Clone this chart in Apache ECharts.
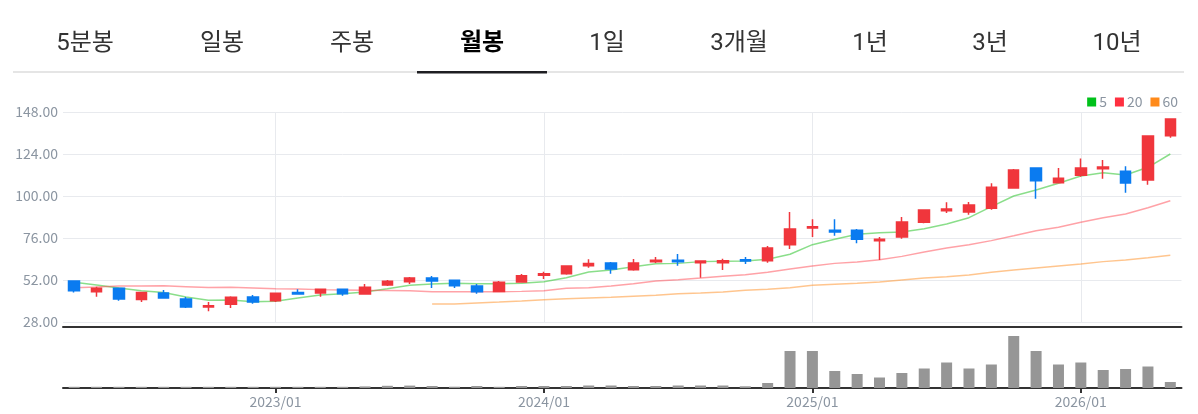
<!DOCTYPE html>
<html>
<head>
<meta charset="utf-8">
<title>월봉</title>
<style>
  html, body { margin: 0; padding: 0; background: #fff; }
  #main { width: 1198px; height: 414px; }
</style>
<script src="https://cdn.jsdelivr.net/npm/echarts@6/dist/echarts.min.js"></script>
</head>
<body>
<div id="main"></div>
<script>
const tabLabels = ["5분봉", "일봉", "주봉", "월봉", "1일", "3개월", "1년", "3년", "10년"];
const activeTab = "월봉";

const months = [
  "2022/04", "2022/05", "2022/06", "2022/07", "2022/08", "2022/09", "2022/10", "2022/11", "2022/12",
  "2023/01", "2023/02", "2023/03", "2023/04", "2023/05", "2023/06", "2023/07", "2023/08", "2023/09", "2023/10", "2023/11", "2023/12",
  "2024/01", "2024/02", "2024/03", "2024/04", "2024/05", "2024/06", "2024/07", "2024/08", "2024/09", "2024/10", "2024/11", "2024/12",
  "2025/01", "2025/02", "2025/03", "2025/04", "2025/05", "2025/06", "2025/07", "2025/08", "2025/09", "2025/10", "2025/11", "2025/12",
  "2026/01", "2026/02", "2026/03", "2026/04", "2026/05",
];

const opens = [51.4, 45.3, 47.3, 40.8, 44.6, 41.1, 36.6, 38.1, 42.3, 40.2, 44.8, 44.6, 46.7, 44, 49.1, 51, 53.1, 51.8, 48.6, 45.5, 50.9, 54.7, 55.6, 60.2, 61.7, 57.9, 62.5, 63.3, 61.9, 61.9, 63.6, 63, 72.2, 81.7, 80.4, 80.4, 74.5, 76.6, 85, 91.6, 90.9, 93, 104.6, 116, 107.6, 111.8, 115.6, 114.1, 109.1, 134.5];
const closes = [45.9, 47.3, 41.1, 44.8, 41.7, 36.6, 37.3, 42.1, 39.4, 44.4, 44, 46.7, 44.2, 47.8, 51.3, 53.1, 51.4, 48.7, 45.3, 50.7, 54.5, 55.6, 60, 61.5, 58.3, 61.7, 63.3, 62.5, 62.9, 63, 62.9, 70.3, 81.1, 82.5, 79.4, 75.3, 75.3, 85.1, 92, 92.6, 94.9, 105, 114.9, 108.7, 110.1, 116, 116.6, 107.4, 134.3, 144];
const lows = [44.8, 42.5, 40.2, 39.4, 41.7, 36, 34.1, 36, 38.5, 39.4, 44, 42.5, 43, 43.6, 48.6, 49.7, 47.4, 47.4, 44.2, 45.5, 50.9, 52.6, 55, 59, 55.6, 57.3, 61.7, 60.2, 53.3, 57.7, 61.1, 61.9, 69.7, 76.6, 77.3, 73, 63.4, 75.6, 84.4, 90.3, 89.3, 92.2, 104.6, 98.5, 107.6, 111, 109.9, 101.9, 106.5, 133.3];
const highs = [51.4, 48.2, 47.6, 44.8, 46.3, 42.3, 39.4, 42.7, 43.4, 44.4, 46.7, 46.7, 46.7, 49.7, 52, 53.7, 54.3, 52.2, 49.7, 51.4, 55.4, 56.7, 60, 63.8, 62.3, 64, 65.1, 66.9, 63.2, 64.2, 65.1, 71.4, 90.9, 86.7, 86.7, 81.1, 76.6, 88, 92, 96.4, 96.6, 107.3, 115.4, 116, 116, 121.5, 120.6, 117, 134.3, 144];

const ma5 = [50.7, 49.1, 47.4, 45.9, 44.8, 42.3, 40.4, 40.6, 39.6, 39.8, 41.7, 43.4, 44.2, 45.1, 47, 49, 49.7, 50.1, 49.9, 49.9, 50.1, 51, 53.3, 56.6, 57.7, 59.6, 61.3, 61.5, 62.5, 62.7, 62.9, 63.8, 66.7, 72.2, 75.3, 78.1, 79, 79.4, 81.3, 84, 87.6, 93.9, 100, 103.4, 107.3, 111.4, 113.3, 112, 116.4, 124];
const ma20 = [47.6, 48, 48.6, 48.6, 48.7, 48.2, 47.7, 47.8, 47.4, 47, 46.9, 46.5, 46.3, 46.1, 46, 45.9, 45.3, 45.3, 45.3, 45.3, 45.5, 45.9, 47.3, 47.6, 48.6, 49.9, 51.4, 52.2, 53.1, 54.1, 55, 56.4, 58.3, 60, 61.5, 62.3, 63.6, 65.5, 68, 70.3, 72.2, 74.5, 77.3, 80.2, 82.1, 85, 87.6, 89.7, 93.3, 97.3];
const ma60 = ["-", "-", "-", "-", "-", "-", "-", "-", "-", "-", "-", "-", "-", "-", "-", "-", 38.3, 38.3, 38.9, 39.4, 40, 40.7, 41.3, 41.7, 42.1, 42.7, 43.3, 44.2, 44.6, 45.1, 46.1, 46.7, 47.6, 49, 49.6, 50.1, 50.9, 52, 53.1, 53.9, 54.9, 56.4, 57.7, 58.9, 60, 61.1, 62.5, 63.4, 64.7, 66.1];

const volumes = [1.2, 1.2, 1.2, 1.2, 1.2, 1.2, 1.2, 1.2, 1.2, 1.2, 1.2, 1.2, 1.2, 1.6, 2.2, 2.4, 2, 1.3, 2, 1.2, 2, 2, 2, 2.5, 2.5, 2, 2, 2.5, 2.5, 2.5, 1.7, 5, 37, 37, 17, 14, 10.5, 15, 19.5, 25.5, 19.5, 23.5, 52, 37, 23.5, 25.5, 18, 19, 21.5, 6];

const priceTicks = { min: 28, max: 148, interval: 24 };

const FONT = '"Noto Sans CJK KR", "Noto Sans", sans-serif';
const GRAY = "#8b95a1";
const GRID_LINE = "#e8eaee";

const tabCenters = [85, 222, 352, 482, 607, 739, 870, 990, 1117];

// only January gets a label, a tick and a vertical line
function isJanuary(index, value) {
  return value.endsWith("/01");
}

const candleData = months.map((m, i) => [opens[i], closes[i], lows[i], highs[i]]);

const tabGraphics = tabLabels.map((label, i) => ({
  type: "text",
  x: tabCenters[i],
  y: 44,
  style: {
    text: label,
    align: "center",
    verticalAlign: "middle",
    fontFamily: 'Roboto, "Noto Sans CJK KR", sans-serif',
    fontSize: 24,
    fontWeight: label === activeTab ? "bold" : "normal",
    fill: label === activeTab ? "#000" : "#333",
  },
}));

function maSeries(name, data, legendColor, lineColor) {
  return {
    name: name,
    type: "line",
    data: data,
    showSymbol: false,
    symbol: "none",
    z: 2,
    itemStyle: { color: legendColor },
    lineStyle: { color: lineColor, width: 1.5 },
    silent: true,
  };
}

var chart = echarts.init(document.getElementById("main"));

chart.setOption({
  animation: false,
  textStyle: { fontFamily: FONT },
  graphic: [
    ...tabGraphics,
    { type: "rect", shape: { x: 13, y: 71, width: 1171, height: 2 }, style: { fill: "#e5e5e5" } },
    { type: "rect", shape: { x: 417, y: 71, width: 130, height: 2.5 }, style: { fill: "#1e1e22" } },
  ],
  legend: {
    data: ["5", "20", "60"],
    right: 15,
    top: 90,
    icon: "rect",
    itemWidth: 9,
    itemHeight: 9,
    itemGap: 8,
    textStyle: { color: GRAY, fontSize: 14, padding: [0, 0, 0, -2] },
  },
  grid: [
    { left: 63, right: 16.5, top: 112, height: 210 },
    { left: 63, right: 16.5, top: 336, height: 52 },
  ],
  xAxis: [
    {
      type: "category",
      gridIndex: 0,
      data: months,
      offset: 5,
      axisLine: { lineStyle: { color: "#333", width: 2 } },
      axisTick: { show: false },
      axisLabel: { show: false },
      splitLine: {
        show: true,
        alignWithLabel: true,
        interval: isJanuary,
        lineStyle: { color: GRID_LINE, width: 1 },
      },
    },
    {
      type: "category",
      gridIndex: 1,
      data: months,
      axisLine: { lineStyle: { color: "#333", width: 2 } },
      axisTick: {
        show: true,
        alignWithLabel: true,
        interval: isJanuary,
        length: 5,
        lineStyle: { color: "#333", width: 2 },
      },
      axisLabel: { interval: isJanuary, color: GRAY, fontSize: 14, margin: 7 },
      splitLine: { show: false },
    },
  ],
  yAxis: [
    {
      type: "value",
      gridIndex: 0,
      min: priceTicks.min,
      max: priceTicks.max,
      interval: priceTicks.interval,
      axisLine: { show: false },
      axisTick: { show: false },
      axisLabel: {
        color: GRAY,
        fontSize: 14,
        margin: 5,
        formatter: (v) => v.toFixed(2),
      },
      splitLine: { lineStyle: { color: GRID_LINE, width: 1 } },
    },
    {
      type: "value",
      gridIndex: 1,
      min: 0,
      max: 52,
      axisLine: { show: false },
      axisTick: { show: false },
      axisLabel: { show: false },
      splitLine: { show: false },
    },
  ],
  series: [
    maSeries("5", ma5, "#00c11a", "rgba(60, 200, 60, 0.6)"),
    maSeries("20", ma20, "#ff3040", "rgba(255, 70, 80, 0.5)"),
    maSeries("60", ma60, "#ff8a1a", "rgba(255, 150, 50, 0.55)"),
    {
      name: "price",
      type: "candlestick",
      data: candleData,
      barWidth: 11,
      z: 3,
      itemStyle: {
        color: "#f0363c",
        color0: "#0a7bf0",
        borderColor: "#f0363c",
        borderColor0: "#0a7bf0",
        borderWidth: 1.5,
      },
    },
    {
      name: "volume",
      type: "bar",
      xAxisIndex: 1,
      yAxisIndex: 1,
      data: volumes,
      barWidth: 11,
      itemStyle: { color: "#969696" },
    },
  ],
});
</script>
</body>
</html>
